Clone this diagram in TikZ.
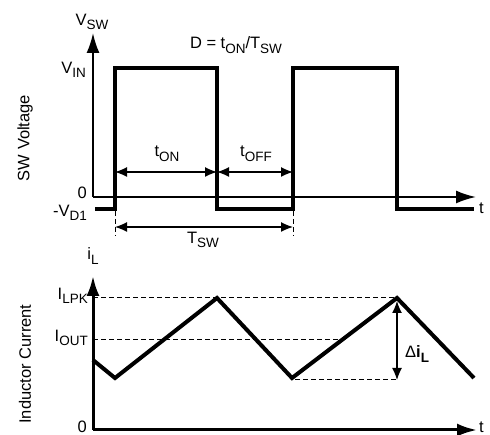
\documentclass[tikz,border=0pt]{standalone}
\usepackage{fontspec}
\setmainfont{Liberation Sans}
\usetikzlibrary{arrows.meta}
\newcommand\sbs[1]{\raisebox{-0.28em}{\fontsize{13.5}{13.5}\selectfont #1}}
\begin{document}
\begin{tikzpicture}[x=1pt,y=-1pt,
  lbl/.style={inner sep=0pt,font=\fontsize{16.5}{18}\selectfont},
  axistop/.style={line width=2pt,-{Latex[length=20pt,width=13pt]}},
  axisbot/.style={line width=3pt,-{Latex[length=20pt,width=13pt]}},
  wave/.style={line width=4pt,line join=miter},
  dim/.style={line width=1.3pt,{Latex[length=12pt,width=10pt]}-{Latex[length=12pt,width=10pt]}},
  guide/.style={line width=1pt,dash pattern=on 5pt off 3pt}]
\useasboundingbox (0,0) rectangle (490,435);
% ---------- top plot ----------
\coordinate (o1) at (93,197);
\coordinate (y1) at (93,33);
\coordinate (x1) at (476,197);
\draw[axistop] (o1) -- (y1);
\draw[axistop] (o1) -- (x1);
\draw[wave] (95,209) -- (115,209) -- (115,68) -- (217,68) -- (217,209)
  -- (293,209) -- (293,68) -- (397,68) -- (397,209) -- (474,209);
\coordinate (a1) at (115,172);
\coordinate (a2) at (217,172);
\coordinate (a3) at (293,172);
\coordinate (b1) at (115,227);
\coordinate (b2) at (293,227);
\draw[dim] (a1) -- (a2);
\draw[dim] (a2) -- (a3);
\draw[dim] (b1) -- (b2);
\coordinate (d1) at (115,211);
\coordinate (d1e) at (115,236);
\coordinate (d2) at (293,211);
\coordinate (d2e) at (293,236);
\draw[guide] (d1) -- (d1e);
\draw[guide] (d2) -- (d2e);
\node[lbl] (vsw) at (92,22) {V\sbs{SW}};
\node[lbl] (duty) at (236,45) {D = t\sbs{ON}/T\sbs{SW}};
\node[lbl,anchor=east] (vin) at (86,70) {V\sbs{IN}};
\node[lbl,anchor=east] (zero1) at (87,193) {0};
\node[lbl,anchor=east] (vd1) at (87,213) {-V\sbs{D1}};
\node[lbl] (ton) at (167,154) {t\sbs{ON}};
\node[lbl] (toff) at (256,154) {t\sbs{OFF}};
\node[lbl] (tsw) at (203,240) {T\sbs{SW}};
\node[lbl,anchor=west] (t1) at (479,208) {t};
\node[lbl,rotate=90] (swv) at (25,138) {SW Voltage};
% ---------- bottom plot ----------
\coordinate (o2) at (93,430);
\coordinate (y2) at (93,276);
\coordinate (x2) at (477,430);
\draw[axisbot] (o2) -- (y2);
\draw[axisbot] (o2) -- (x2);
\coordinate (pk) at (397,298);
\coordinate (lo) at (397,380);
\draw[guide] (93,298) -- (pk);
\draw[guide] (93,340) -- (342,340);
\draw[guide] (295,380) -- (lo);
\draw[wave] (93,360) -- (115,378) -- (217,298) -- (292,378) -- (397,298) -- (474,378);
\coordinate (pk2) at (397,301);
\draw[dim] (pk2) -- (lo);
\node[lbl] (il) at (93,256) {i\sbs{L}};
\node[lbl,anchor=east] (ilpk) at (88,296) {I\sbs{LPK}};
\node[lbl,anchor=east] (iout) at (88,338) {I\sbs{OUT}};
\node[lbl,anchor=east] (zero2) at (87,427) {0};
\node[lbl,anchor=west] (t2) at (479,427) {t};
\node[lbl,anchor=west] (dil) at (405,354) {Δ\textbf{i\sbs{\textbf{L}}}};
\node[lbl,rotate=90] (indc) at (25,364) {Inductor Current};
\end{tikzpicture}
\end{document}
